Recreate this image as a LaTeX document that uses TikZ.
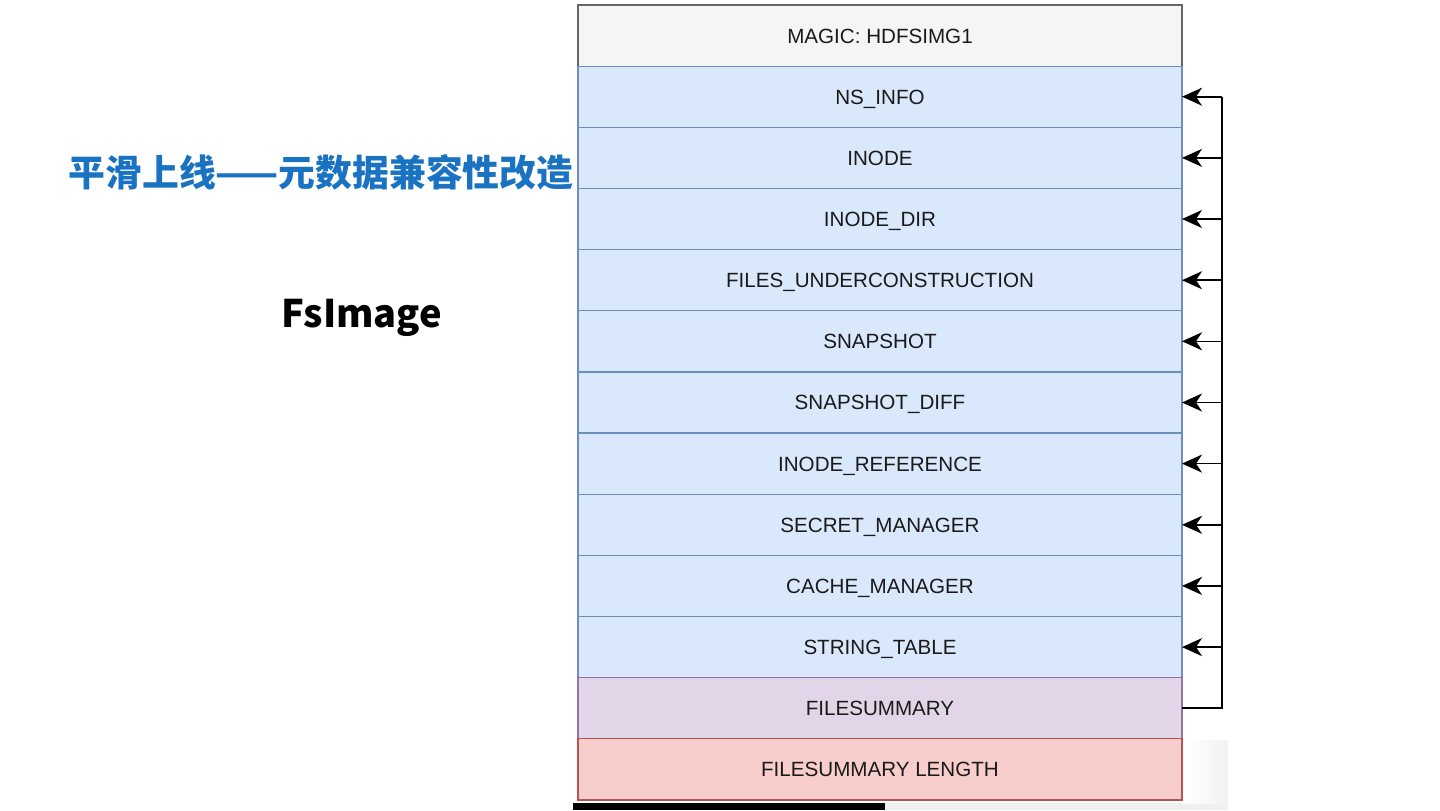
\documentclass[tikz,border=0pt]{standalone}
\usepackage{fontspec}
\setmainfont{Liberation Sans}
\newfontfamily\cjk{Noto Sans CJK SC}
\usetikzlibrary{arrows.meta}
\definecolor{titleblue}{RGB}{26,114,194}
\definecolor{grayfill}{HTML}{F5F5F5}
\definecolor{grayline}{HTML}{666666}
\definecolor{bluefill}{HTML}{DAE8FC}
\definecolor{blueline}{HTML}{6C8EBF}
\definecolor{purplefill}{HTML}{E1D5E7}
\definecolor{purpleline}{HTML}{9673A6}
\definecolor{redfill}{HTML}{F8CECC}
\definecolor{redline}{HTML}{B85450}
\definecolor{labeltext}{HTML}{1A1A1A}
\tikzset{
  rowbox/.style={rectangle, minimum width=302pt, minimum height=30.575pt, inner sep=0pt, outer sep=0pt,
    line width=0.6pt, font=\fontsize{10.3}{12}\selectfont, text=labeltext, text height=7.4pt, text depth=0pt},
  graybox/.style={rowbox, draw=grayline, fill=grayfill},
  bluebox/.style={rowbox, draw=blueline, fill=bluefill},
  purplebox/.style={rowbox, draw=purpleline, fill=purplefill},
  redbox/.style={rowbox, draw=redline, fill=redfill},
  arr/.style={-{Stealth[length=10pt,width=9pt,inset=3pt]}, line width=0.8pt, black},
  busline/.style={line width=0.8pt, black}
}
\begin{document}
\begin{tikzpicture}[x=0.5pt,y=-0.5pt]
\useasboundingbox (0,0) rectangle (1440,810);
\fill[white] (0,0) rectangle (1440,810);
% screenshot strip at the bottom
\fill[black!6] (885,803) rectangle (1228,810);
\fill[black] (573,803) rectangle (885,810);
\shade[left color=white, right color=black!5] (1182,740) rectangle (1228,803);

\node[text=titleblue, font=\cjk\bfseries\fontsize{18.4}{22}\selectfont, anchor=center] (title) at (321,172) {平滑上线——元数据兼容性改造};
\node[text=black, font=\cjk\bfseries\fontsize{19}{24}\selectfont, anchor=center] (fsimage) at (362,318) {FsImage};

\node[graybox] (magic) at (880,35.6) {MAGIC: HDFSIMG1};
\node[bluebox] (nsinfo) at (880,96.7) {NS\_INFO};
\node[bluebox] (inode) at (880,157.9) {INODE};
\node[bluebox] (inodedir) at (880,219.0) {INODE\_DIR};
\node[bluebox] (filesuc) at (880,280.2) {FILES\_UNDERCONSTRUCTION};
\node[bluebox] (snapshot) at (880,341.3) {SNAPSHOT};
\node[bluebox] (snapdiff) at (880,402.5) {SNAPSHOT\_DIFF};
\node[bluebox] (inoderef) at (880,463.6) {INODE\_REFERENCE};
\node[bluebox] (secret) at (880,524.8) {SECRET\_MANAGER};
\node[bluebox] (cache) at (880,585.9) {CACHE\_MANAGER};
\node[bluebox] (strtable) at (880,647.1) {STRING\_TABLE};
\node[purplebox] (fsum) at (880,708.2) {FILESUMMARY};
\node[redbox] (fsumlen) at (880,769.4) {FILESUMMARY LENGTH};

\coordinate (bus) at (1222,96.7);
\draw[busline] (fsum.east) -| (bus);
\foreach \r in {nsinfo,inode,inodedir,filesuc,snapshot,snapdiff,inoderef,secret,cache,strtable}{
  \draw[arr] (bus |- \r.east) -- (\r.east);
}
\end{tikzpicture}
\end{document}
